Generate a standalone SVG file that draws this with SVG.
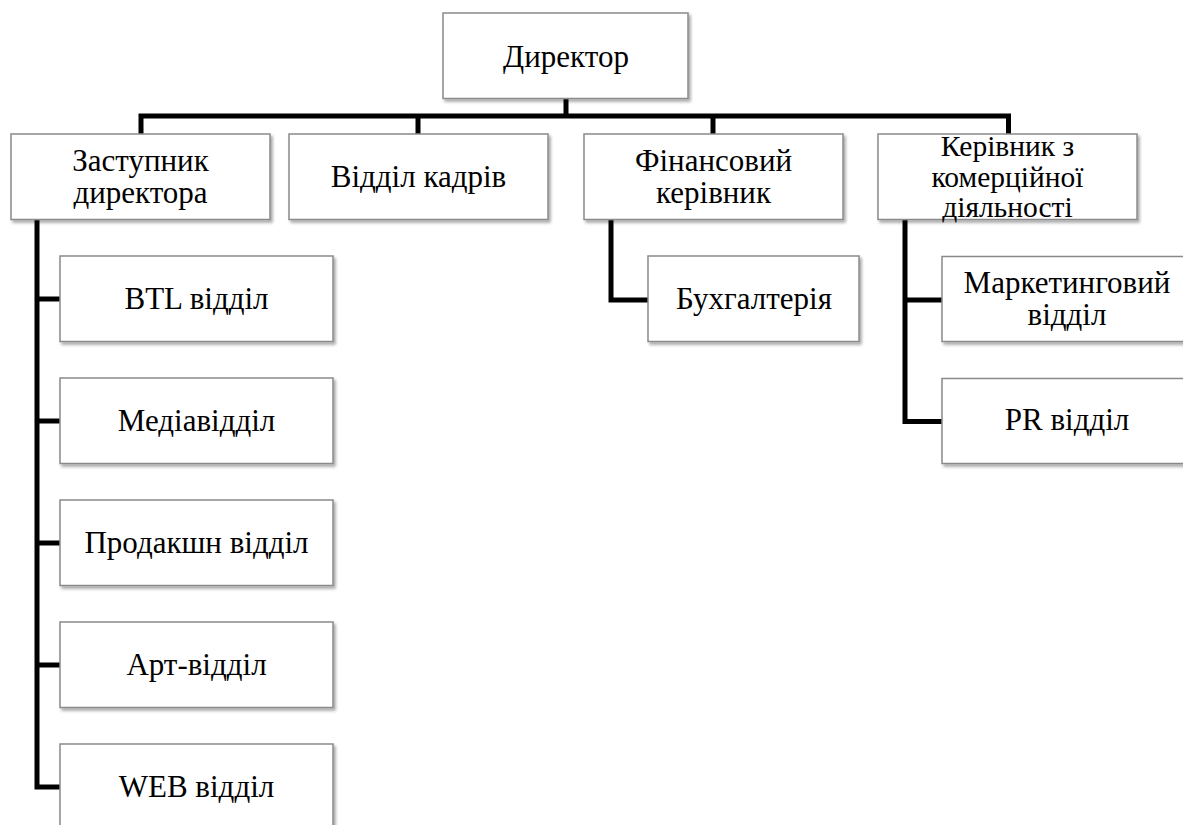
<svg xmlns="http://www.w3.org/2000/svg" width="1183" height="825" viewBox="0 0 1183 825">
<defs>
<filter id="sh" x="-10%" y="-10%" width="130%" height="140%">
<feDropShadow dx="2" dy="2.5" stdDeviation="1.6" flood-color="#000" flood-opacity="0.35"/>
</filter>
<style>
.box{fill:#fff;stroke:#8a8a8a;stroke-width:1.5;filter:url(#sh)}
.t{font-family:"Liberation Serif","Times New Roman",serif;font-size:31px;fill:#000;text-anchor:middle}
.s{font-size:29.5px}
.c{fill:none;stroke:#000;stroke-width:5;stroke-linejoin:miter;stroke-linecap:butt}
</style>
</defs>
<rect width="1183" height="825" fill="#fff"/>
<g id="connectors">
<path class="c" d="M566 98 V116"/>
<path class="c" d="M141 134 V116 H1008.5 V134"/>
<path class="c" d="M418 116 V134"/>
<path class="c" d="M713 116 V134"/>
<path class="c" d="M37 219 V787 H60"/>
<path class="c" d="M37 299 H60"/>
<path class="c" d="M37 421 H60"/>
<path class="c" d="M37 543 H60"/>
<path class="c" d="M37 665 H60"/>
<path class="c" d="M611 219 V300 H648"/>
<path class="c" d="M905 219 V421.5 H942"/>
<path class="c" d="M905 300 H942"/>
</g>
<g id="n-director"><rect class="box" x="443" y="13" width="245" height="85.5"/><text class="t" x="566" y="67">Директор</text></g>
<g id="n-deputy"><rect class="box" x="11" y="134" width="259" height="85.5"/><text class="t" x="140.5" y="170.5">Заступник</text><text class="t" x="140.5" y="202.5">директора</text></g>
<g id="n-hr"><rect class="box" x="289" y="134" width="259" height="85.5"/><text class="t" x="418.5" y="187">Відділ кадрів</text></g>
<g id="n-fin"><rect class="box" x="584" y="134" width="259" height="85.5"/><text class="t" x="713.5" y="170.5">Фінансовий</text><text class="t" x="713.5" y="202.5">керівник</text></g>
<g id="n-com"><rect class="box" x="878" y="134" width="259" height="85.5"/><text class="t s" x="1007.5" y="156">Керівник з</text><text class="t s" x="1007.5" y="186.5">комерційної</text><text class="t s" x="1007.5" y="217">діяльності</text></g>
<g id="n-btl"><rect class="box" x="60" y="256" width="273" height="85.5"/><text class="t" x="196.5" y="309">BTL відділ</text></g>
<g id="n-media"><rect class="box" x="60" y="378" width="273" height="85.5"/><text class="t" x="196.5" y="431">Медіавідділ</text></g>
<g id="n-prod"><rect class="box" x="60" y="500" width="273" height="85.5"/><text class="t" x="196.5" y="553">Продакшн відділ</text></g>
<g id="n-art"><rect class="box" x="60" y="622" width="273" height="85.5"/><text class="t" x="196.5" y="675">Арт-відділ</text></g>
<g id="n-web"><rect class="box" x="60" y="744" width="273" height="85.5"/><text class="t" x="196.5" y="797">WEB відділ</text></g>
<g id="n-acc"><rect class="box" x="648" y="256" width="211" height="85.5"/><text class="t" x="754" y="308.5">Бухгалтерія</text></g>
<g id="n-mkt"><rect class="box" x="942" y="256.5" width="252" height="85"/><text class="t" x="1067" y="292.5">Маркетинговий</text><text class="t" x="1067" y="325">відділ</text></g>
<g id="n-pr"><rect class="box" x="942" y="378.5" width="252" height="85"/><text class="t" x="1067" y="430">PR відділ</text></g>
</svg>
